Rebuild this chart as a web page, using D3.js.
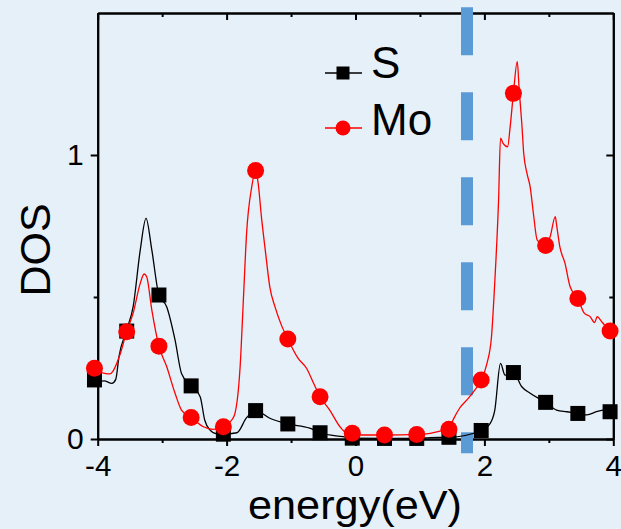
<!DOCTYPE html>
<html>
<head>
<meta charset="utf-8">
<script src="https://cdn.jsdelivr.net/npm/d3@7"></script>
<style>
  html, body { margin: 0; padding: 0; background: #e6f0f9; }
  svg { display: block; }
  text { font-family: "Liberation Sans", Arial, sans-serif; fill: #000; }
</style>
</head>
<body>
<svg id="chart" width="621" height="529"></svg>
<script>
// ---- data ----
const energyTicks = [-4, -2, 0, 2, 4];
const energyMinorTicks = [-3, -1, 1, 3];
const dosTicks = [0, 1];
const dosMinorTicks = [0.5];

const markerEnergy = [-4.05, -3.55, -3.05, -2.55, -2.05, -1.55, -1.05, -0.55, -0.05, 0.45, 0.95, 1.45, 1.95, 2.45, 2.95, 3.45, 3.95];
const sMarkerDOS  = [0.208, 0.380, 0.507, 0.187, 0.017, 0.100, 0.053, 0.022, 0.003, 0.002, 0.002, 0.006, 0.030, 0.234, 0.129, 0.090, 0.096];
const moMarkerDOS = [0.249, 0.378, 0.327, 0.076, 0.043, 0.945, 0.352, 0.149, 0.020, 0.014, 0.016, 0.034, 0.208, 1.217, 0.681, 0.495, 0.380];

const sLineEnergy = [-4.0, -3.9, -3.78, -3.72, -3.67, -3.55, -3.45, -3.34, -3.25, -3.16, -3.05, -2.93, -2.80, -2.70, -2.55, -2.41, -2.34, -2.26, -2.15, -2.05, -1.84, -1.69, -1.55, -1.33, -1.05, -0.71, -0.55, -0.19, -0.05, 0.45, 0.95, 1.16, 1.45, 1.95, 2.09, 2.16, 2.25, 2.32, 2.45, 2.58, 2.71, 2.95, 3.12, 3.28, 3.45, 3.59, 3.74, 3.85, 3.95, 4.0];
const sLineDOS    = [0.20, 0.205, 0.196, 0.21, 0.29, 0.385, 0.466, 0.665, 0.777, 0.665, 0.507, 0.466, 0.349, 0.231, 0.187, 0.149, 0.067, 0.032, 0.018, 0.017, 0.022, 0.075, 0.100, 0.073, 0.053, 0.038, 0.022, 0.008, 0.003, 0.002, 0.002, 0.005, 0.006, 0.030, 0.055, 0.100, 0.266, 0.225, 0.234, 0.184, 0.161, 0.129, 0.102, 0.096, 0.090, 0.085, 0.096, 0.102, 0.096, 0.095];

const moLineEnergy = [-4.0, -3.96, -3.89, -3.81, -3.76, -3.65, -3.55, -3.45, -3.34, -3.28, -3.24, -3.16, -3.05, -2.93, -2.80, -2.70, -2.55, -2.36, -2.21, -2.05, -1.92, -1.87, -1.79, -1.74, -1.69, -1.61, -1.55, -1.51, -1.46, -1.40, -1.33, -1.25, -1.15, -1.05, -0.89, -0.76, -0.65, -0.55, -0.40, -0.24, -0.14, -0.05, 0.07, 0.45, 0.95, 1.16, 1.36, 1.45, 1.52, 1.62, 1.75, 1.85, 1.95, 2.04, 2.11, 2.16, 2.22, 2.25, 2.29, 2.36, 2.40, 2.45, 2.51, 2.54, 2.58, 2.61, 2.66, 2.71, 2.76, 2.82, 2.95, 3.02, 3.10, 3.12, 3.17, 3.25, 3.33, 3.45, 3.55, 3.64, 3.71, 3.75, 3.82, 3.95, 4.0];
const moLineDOS    = [0.245, 0.237, 0.231, 0.229, 0.24, 0.30, 0.378, 0.443, 0.548, 0.581, 0.571, 0.454, 0.327, 0.255, 0.161, 0.102, 0.076, 0.043, 0.034, 0.043, 0.067, 0.09, 0.255, 0.489, 0.724, 0.888, 0.945, 0.90, 0.783, 0.665, 0.536, 0.466, 0.401, 0.352, 0.284, 0.249, 0.196, 0.149, 0.102, 0.043, 0.022, 0.020, 0.014, 0.014, 0.016, 0.020, 0.030, 0.034, 0.070, 0.11, 0.143, 0.172, 0.208, 0.266, 0.36, 0.548, 0.842, 1.059, 1.041, 1.029, 1.10, 1.217, 1.329, 1.229, 1.112, 1.006, 0.936, 0.888, 0.795, 0.70, 0.681, 0.712, 0.783, 0.754, 0.677, 0.619, 0.536, 0.495, 0.443, 0.431, 0.41, 0.431, 0.413, 0.380, 0.37];

const gapEnergy = 1.73;
const gapDOSRange = [-0.05, 1.52];

const seriesNames = ["S", "Mo"];
const seriesColors = ["#000000", "#ff0000"];
const xLabel = "energy(eV)";
const yLabel = "DOS";

// ---- layout ----
const svg = d3.select("#chart");
svg.append("rect").attr("width", 621).attr("height", 529).attr("fill", "#e6f0f9");

const plotL = 97.7, plotR = 613.3, plotT = 13, plotB = 439;
const x = d3.scaleLinear().domain([-4, 4]).range([plotL, plotR]);
const y = d3.scaleLinear().domain([0, 1.5]).range([plotB, plotT]);

const fontFam = '"Liberation Sans", Arial, sans-serif';

function styleAxis(g) {
  g.selectAll("path.domain").attr("stroke", "#000").attr("stroke-width", 2);
  g.selectAll(".tick line").attr("stroke", "#000").attr("stroke-width", 2);
  g.selectAll("text").attr("font-family", fontFam).attr("fill", "#000");
}

// bottom axis
const gb = svg.append("g").attr("transform", `translate(0,${plotB})`)
  .call(d3.axisBottom(x).tickValues(energyTicks).tickSize(7).tickSizeOuter(0).tickFormat(d => String(d)));
styleAxis(gb);
gb.selectAll("text").attr("font-size", 29.5).attr("y", 37).attr("dy", 0);
const gbm = svg.append("g").attr("transform", `translate(0,${plotB})`)
  .call(d3.axisBottom(x).tickValues(energyMinorTicks).tickSize(4).tickSizeOuter(0).tickFormat(""));
styleAxis(gbm);

// top axis (inward ticks)
const gt = svg.append("g").attr("transform", `translate(0,${plotT})`)
  .call(d3.axisTop(x).tickValues(energyTicks).tickSize(-7).tickSizeOuter(0).tickFormat(""));
styleAxis(gt);
const gtm = svg.append("g").attr("transform", `translate(0,${plotT})`)
  .call(d3.axisTop(x).tickValues(energyMinorTicks).tickSize(-4).tickSizeOuter(0).tickFormat(""));
styleAxis(gtm);

// left axis
const gl = svg.append("g").attr("transform", `translate(${plotL},0)`)
  .call(d3.axisLeft(y).tickValues(dosTicks).tickSize(7).tickSizeOuter(0).tickFormat(d => String(d)));
styleAxis(gl);
gl.selectAll("text").attr("font-size", 30).attr("x", -14).attr("y", 9).attr("dy", 0);
const glm = svg.append("g").attr("transform", `translate(${plotL},0)`)
  .call(d3.axisLeft(y).tickValues(dosMinorTicks).tickSize(4).tickSizeOuter(0).tickFormat(""));
styleAxis(glm);

// right axis (inward ticks)
const gr = svg.append("g").attr("transform", `translate(${plotR},0)`)
  .call(d3.axisRight(y).tickValues(dosTicks).tickSize(-7).tickSizeOuter(0).tickFormat(""));
styleAxis(gr);
const grm = svg.append("g").attr("transform", `translate(${plotR},0)`)
  .call(d3.axisRight(y).tickValues(dosMinorTicks).tickSize(-4).tickSizeOuter(0).tickFormat(""));
styleAxis(grm);

// axis titles
svg.append("text").attr("x", 355).attr("y", 519.2).attr("text-anchor", "middle")
  .attr("font-size", 41).attr("font-family", fontFam)
  .attr("textLength", 214).attr("lengthAdjust", "spacingAndGlyphs").text(xLabel);
svg.append("text").attr("transform", "translate(50,250) rotate(-90)").attr("text-anchor", "middle")
  .attr("font-size", 43).attr("font-family", fontFam).text(yLabel);

// band gap dashed line
svg.append("line")
  .attr("x1", x(gapEnergy)).attr("x2", x(gapEnergy))
  .attr("y1", y(gapDOSRange[1])).attr("y2", y(gapDOSRange[0]))
  .attr("stroke", "#5b9bd5").attr("stroke-width", 12)
  .attr("stroke-dasharray", "48 37");

// lines
const lineGen = d3.line().x(d => x(d[0])).y(d => y(d[1])).curve(d3.curveMonotoneX);
const sLine = d3.zip(sLineEnergy, sLineDOS);
const moLine = d3.zip(moLineEnergy, moLineDOS);
svg.append("path").datum(sLine).attr("d", lineGen).attr("fill", "none")
  .attr("stroke", seriesColors[0]).attr("stroke-width", 1.3);
svg.append("path").datum(moLine).attr("d", lineGen).attr("fill", "none")
  .attr("stroke", seriesColors[1]).attr("stroke-width", 1.3);

// markers
const sPts = d3.zip(markerEnergy, sMarkerDOS);
const moPts = d3.zip(markerEnergy, moMarkerDOS);
const sq = 15;
svg.append("g").selectAll("rect").data(sPts).join("rect")
  .attr("x", d => x(d[0]) - sq / 2).attr("y", d => y(d[1]) - sq / 2)
  .attr("width", sq).attr("height", sq).attr("fill", seriesColors[0]);
svg.append("g").selectAll("circle").data(moPts).join("circle")
  .attr("cx", d => x(d[0])).attr("cy", d => y(d[1])).attr("r", 8.5)
  .attr("fill", seriesColors[1]);

// legend
const lg = svg.append("g");
const legendRows = [{ yy: 73, ty: 78 }, { yy: 128, ty: 135 }];
seriesNames.forEach((name, i) => {
  const r = legendRows[i];
  lg.append("line").attr("x1", 325).attr("x2", 362).attr("y1", r.yy).attr("y2", r.yy)
    .attr("stroke", seriesColors[i]).attr("stroke-width", 1.3);
  if (i === 0) {
    lg.append("rect").attr("x", 343 - 6.5).attr("y", r.yy - 6.5).attr("width", 13).attr("height", 13)
      .attr("fill", seriesColors[i]);
  } else {
    lg.append("circle").attr("cx", 343).attr("cy", r.yy).attr("r", 7.5).attr("fill", seriesColors[i]);
  }
  lg.append("text").attr("x", 371).attr("y", r.ty).attr("font-size", 44)
    .attr("font-family", fontFam).text(name);
});
</script>
</body>
</html>
